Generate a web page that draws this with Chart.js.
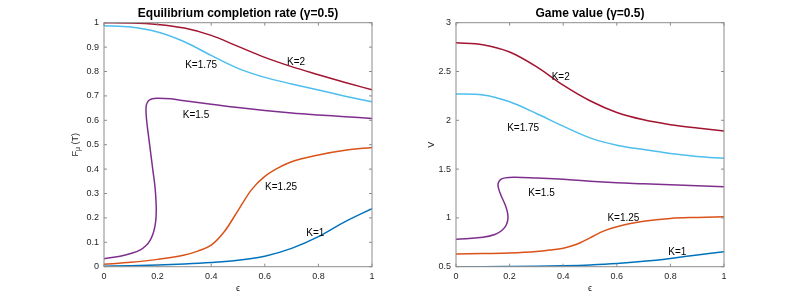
<!DOCTYPE html>
<html>
<head>
<meta charset="utf-8">
<script src="https://cdn.jsdelivr.net/npm/chart.js@4.4.1/dist/chart.umd.min.js"></script>
<style>
  body { margin: 0; background: #ffffff; }
  #wrap { position: relative; width: 800px; height: 300px; }
  .pane { position: absolute; top: 0; width: 400px; height: 300px; }
</style>
</head>
<body>
<div id="wrap">
  <div class="pane" style="left:0px"><canvas id="rateChart" width="400" height="300"></canvas></div>
  <div class="pane" style="left:400px"><canvas id="valueChart" width="400" height="300"></canvas></div>
</div>
<script>
// --- data ---
var kLabels = ['K=1', 'K=1.25', 'K=1.5', 'K=1.75', 'K=2'];
var kColors = ['#0072BD', '#D95319', '#7E2F8E', '#4DBEEE', '#A2142F'];

var epsGrid = [0, 0.1, 0.2, 0.3, 0.4, 0.5, 0.6, 0.7, 0.8, 0.9, 1];
var epsTicks = [0, 0.2, 0.4, 0.6, 0.8, 1];
var rateTicks = [0, 0.1, 0.2, 0.3, 0.4, 0.5, 0.6, 0.7, 0.8, 0.9, 1];
var valueTicks = [0.5, 1, 1.5, 2, 2.5, 3];

// left panel: equilibrium completion rate F_mu(T)
var rateK1 = [0.002, 0.004, 0.007, 0.011, 0.017, 0.026, 0.043, 0.075, 0.123, 0.185, 0.238];
var rateK125Eps = [0, 0.1, 0.2, 0.3, 0.35, 0.4, 0.45, 0.5, 0.55, 0.6, 0.65, 0.7, 0.8, 0.9, 1];
var rateK125 = [0.01, 0.018, 0.03, 0.048, 0.064, 0.088, 0.145, 0.23, 0.315, 0.37, 0.405, 0.43, 0.458, 0.477, 0.489];
var rateK15Eps = [0, 0.06, 0.1, 0.134, 0.158, 0.172, 0.183, 0.19, 0.194, 0.195, 0.193, 0.189, 0.183, 0.176, 0.168, 0.161, 0.157, 0.158, 0.166, 0.18, 0.2, 0.25, 0.3, 0.4, 0.5, 0.6, 0.7, 0.8, 0.9, 1];
var rateK15 = [0.033, 0.043, 0.054, 0.068, 0.088, 0.108, 0.135, 0.165, 0.2, 0.24, 0.29, 0.34, 0.39, 0.45, 0.52, 0.58, 0.63, 0.662, 0.68, 0.688, 0.69, 0.688, 0.68, 0.666, 0.652, 0.64, 0.63, 0.622, 0.615, 0.607];
var rateK175 = [0.988, 0.982, 0.962, 0.922, 0.866, 0.813, 0.776, 0.749, 0.724, 0.699, 0.676];
var rateK2 = [1.0, 0.999, 0.993, 0.978, 0.948, 0.903, 0.858, 0.82, 0.787, 0.755, 0.725];
var rateNoteX = [0.755, 0.601, 0.294, 0.303, 0.683];
var rateNoteY = [0.137, 0.324, 0.622, 0.826, 0.839];

// right panel: game value V
var valueK1 = [0.5, 0.5, 0.502, 0.505, 0.51, 0.518, 0.532, 0.555, 0.585, 0.62, 0.654];
var valueK125Eps = [0, 0.1, 0.2, 0.3, 0.35, 0.4, 0.45, 0.5, 0.55, 0.6, 0.7, 0.8, 0.9, 1];
var valueK125 = [0.63, 0.635, 0.64, 0.655, 0.67, 0.69, 0.73, 0.795, 0.865, 0.91, 0.965, 0.995, 1.005, 1.012];
var valueK15Eps = [0, 0.1, 0.145, 0.172, 0.188, 0.194, 0.191, 0.181, 0.168, 0.159, 0.157, 0.165, 0.183, 0.22, 0.3, 0.4, 0.5, 0.6, 0.7, 0.8, 0.9, 1];
var valueK15 = [0.78, 0.802, 0.83, 0.873, 0.93, 1.0, 1.07, 1.15, 1.23, 1.30, 1.35, 1.39, 1.41, 1.416, 1.408, 1.395, 1.375, 1.36, 1.35, 1.34, 1.33, 1.32];
var valueK175 = [2.27, 2.26, 2.19, 2.07, 1.94, 1.82, 1.745, 1.70, 1.66, 1.63, 1.61];
var valueK2 = [2.795, 2.775, 2.70, 2.55, 2.36, 2.2, 2.08, 2.005, 1.955, 1.92, 1.89];
var valueNoteX = [0.792, 0.565, 0.27, 0.191, 0.357];
var valueNoteY = [0.643, 0.996, 1.252, 1.918, 2.44];

var FONT = '"Liberation Sans", Arial, Helvetica, sans-serif';
var TEXT_COLOR = '#262626';
var FRAME_COLOR = '#8c8c8c';

function toPoints(xs, ys) {
  var pts = [];
  for (var i = 0; i < ys.length; i++) pts.push({x: xs[i], y: ys[i]});
  return pts;
}

function isMonotone(xs) {
  for (var i = 1; i < xs.length; i++) if (xs[i] <= xs[i - 1]) return false;
  return true;
}

function makeDatasets(seriesX, seriesY) {
  var ds = [];
  for (var i = 0; i < seriesY.length; i++) {
    var mono = isMonotone(seriesX[i]);
    ds.push({
      label: kLabels[i],
      data: toPoints(seriesX[i], seriesY[i]),
      borderColor: kColors[i],
      borderWidth: 1.5,
      pointRadius: 0,
      showLine: true,
      cubicInterpolationMode: mono ? 'monotone' : 'default',
      tension: 0.4,
      fill: false
    });
  }
  return ds;
}

// matlab style box, inward ticks, title, labels and curve notes
var matlabFrame = {
  id: 'matlabFrame',
  afterDatasetsDraw: function(chart, args, opts) {
    var ctx = chart.ctx;
    var a = chart.chartArea;
    var xs = chart.scales.x, ys = chart.scales.y;
    ctx.save();
    ctx.strokeStyle = FRAME_COLOR;
    ctx.lineWidth = 1;
    ctx.strokeRect(a.left, a.top, a.right - a.left, a.bottom - a.top);
    ctx.beginPath();
    xs.ticks.forEach(function(t) {
      var p = xs.getPixelForValue(t.value);
      ctx.moveTo(p, a.bottom); ctx.lineTo(p, a.bottom - 3);
      ctx.moveTo(p, a.top); ctx.lineTo(p, a.top + 3);
    });
    ys.ticks.forEach(function(t) {
      var p = ys.getPixelForValue(t.value);
      ctx.moveTo(a.left, p); ctx.lineTo(a.left + 3, p);
      ctx.moveTo(a.right, p); ctx.lineTo(a.right - 3, p);
    });
    ctx.stroke();

    // curve notes
    ctx.fillStyle = '#000000';
    ctx.font = '10px ' + FONT;
    ctx.textAlign = 'left';
    ctx.textBaseline = 'middle';
    for (var i = 0; i < kLabels.length; i++) {
      ctx.fillText(kLabels[i], xs.getPixelForValue(opts.noteX[i]), ys.getPixelForValue(opts.noteY[i]));
    }

    // title
    var cx = (a.left + a.right) / 2;
    ctx.font = 'bold 12px ' + FONT;
    ctx.textAlign = 'center';
    ctx.fillText(opts.title, cx, 14);

    // x label
    ctx.fillStyle = TEXT_COLOR;
    ctx.font = '9px ' + FONT;
    ctx.fillText('\u03F5', cx, 289);

    // y label, rotated
    var cy = (a.top + a.bottom) / 2;
    ctx.translate(opts.ylabelX, cy);
    ctx.rotate(-Math.PI / 2);
    ctx.textAlign = 'left';
    var parts = opts.ylabel;
    var big = '9px ' + FONT, small = '7px ' + FONT;
    var w = 0;
    parts.forEach(function(p) { ctx.font = p.sub ? small : big; w += ctx.measureText(p.t).width; });
    var x0 = -w / 2;
    parts.forEach(function(p) {
      ctx.font = p.sub ? small : big;
      ctx.fillText(p.t, x0, p.sub ? 2.5 : 0);
      x0 += ctx.measureText(p.t).width;
    });
    ctx.restore();
  }
};

function makeChart(canvasId, datasets, yMin, yMax, yTicks, yWidth, padRight, frameOpts) {
  var ctx = document.getElementById(canvasId).getContext('2d');
  return new Chart(ctx, {
    type: 'scatter',
    data: { datasets: datasets },
    plugins: [matlabFrame],
    options: {
      responsive: false,
      animation: false,
      devicePixelRatio: 1,
      layout: { padding: { left: 0, right: padRight, top: 22.7, bottom: 0 } },
      plugins: {
        legend: { display: false },
        tooltip: { enabled: false },
        matlabFrame: frameOpts
      },
      scales: {
        x: {
          type: 'linear',
          min: 0, max: 1,
          afterBuildTicks: function(s) { s.ticks = epsTicks.map(function(v) { return {value: v}; }); },
          ticks: {
            color: TEXT_COLOR, font: { family: FONT, size: 9 }, padding: 4,
            maxRotation: 0,
            callback: function(v) { return String(v); }
          },
          grid: { display: false, drawTicks: false },
          border: { display: false },
          afterFit: function(s) { s.height = 33.3; }
        },
        y: {
          type: 'linear',
          min: yMin, max: yMax,
          afterBuildTicks: function(s) { s.ticks = yTicks.map(function(v) { return {value: v}; }); },
          ticks: {
            color: TEXT_COLOR, font: { family: FONT, size: 9 }, padding: 5,
            callback: function(v) { return String(v); }
          },
          grid: { display: false, drawTicks: false },
          border: { display: false },
          afterFit: function(s) { s.width = yWidth; }
        }
      }
    }
  });
}

var rateChart = makeChart('rateChart',
  makeDatasets([epsGrid, rateK125Eps, rateK15Eps, epsGrid, epsGrid], [rateK1, rateK125, rateK15, rateK175, rateK2]),
  0, 1, rateTicks, 104, 28,
  {
    title: 'Equilibrium completion rate (\u03B3=0.5)',
    noteX: rateNoteX, noteY: rateNoteY, ylabelX: 76,
    ylabel: [{t: 'F'}, {t: '\u03BC', sub: true}, {t: ' (T)'}]
  });

var valueChart = makeChart('valueChart',
  makeDatasets([epsGrid, valueK125Eps, valueK15Eps, epsGrid, epsGrid], [valueK1, valueK125, valueK15, valueK175, valueK2]),
  0.5, 3, valueTicks, 56, 76,
  {
    title: 'Game value (\u03B3=0.5)',
    noteX: valueNoteX, noteY: valueNoteY, ylabelX: 31.7,
    ylabel: [{t: 'V'}]
  });
</script>
</body>
</html>
